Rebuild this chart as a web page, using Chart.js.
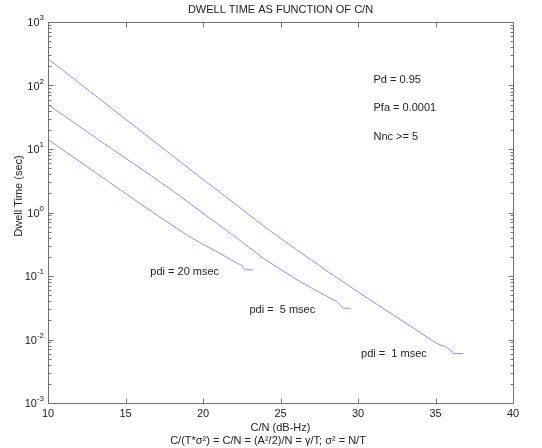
<!DOCTYPE html>
<html>
<head>
<meta charset="utf-8">
<script src="https://cdn.jsdelivr.net/npm/chart.js@4/dist/chart.umd.min.js"></script>
<style>
  html,body{margin:0;padding:0;background:#fff;}
  canvas{display:block;}
</style>
</head>
<body>
<canvas id="c" width="542" height="448"></canvas>
<script>
// values (C/N in dB-Hz, dwell time in sec)
const cnPdi1    = [10, 12, 14, 16, 18, 20, 22, 24, 26, 28, 30, 32, 34, 35, 35.3, 35.5, 35.8, 35.95, 36.15, 36.8];
const dwellPdi1 = [263, 110, 45.7, 19.1, 7.94, 3.31, 1.41, 0.589, 0.263, 0.120, 0.0562, 0.0269, 0.0129, 0.0089, 0.0082, 0.0080, 0.0072, 0.0068, 0.0060, 0.0060];

const cnPdi5    = [10, 12, 14, 16, 18, 20, 22, 24, 26, 27, 28, 28.4, 28.6, 28.8, 29.05, 29.5];
const dwellPdi5 = [50.1, 22.9, 10.5, 4.90, 2.24, 0.977, 0.427, 0.182, 0.0891, 0.0646, 0.0479, 0.0420, 0.0405, 0.0360, 0.0310, 0.0310];

const cnPdi20    = [10, 12, 14, 16, 18, 19, 20, 21, 22, 22.3, 22.45, 22.7, 23.25];
const dwellPdi20 = [14.1, 6.46, 2.95, 1.35, 0.631, 0.437, 0.316, 0.234, 0.170, 0.155, 0.150, 0.125, 0.125];

const xTicks = [10, 15, 20, 25, 30, 35, 40];
const yExps  = [-3, -2, -1, 0, 1, 2, 3];

const curveLabels = ['pdi = 20 msec', 'pdi =  5 msec', 'pdi =  1 msec'];
const notes = ['Pd = 0.95', 'Pfa = 0.0001', 'Nnc >= 5'];

const LINE = '#8c8cff';
const AXIS = '#707070';
const TXT  = '#222';
const FONT = '11px "Liberation Sans", Arial, sans-serif';

const pts = (xs, ys) => xs.map((v,i)=>({x:v, y:ys[i]}));

// MATLAB style box, ticks and labels
const matlabAxes = {
  id:'matlabAxes',
  afterDatasetsDraw(c){
    const {ctx, chartArea:a, scales:{x, y}} = c;
    const L = Math.round(a.left)+0.5, R = Math.round(a.right)+0.5;
    const T = Math.round(a.top)+0.5, B = Math.round(a.bottom)+0.5;
    ctx.save();
    ctx.strokeStyle = AXIS; ctx.lineWidth = 1;
    ctx.beginPath();
    ctx.rect(L, T, R-L, B-T);
    // x ticks, bottom and top
    xTicks.forEach(v=>{
      const px = Math.round(x.getPixelForValue(v))+0.5;
      ctx.moveTo(px, B); ctx.lineTo(px, B-5);
      ctx.moveTo(px, T); ctx.lineTo(px, T+5);
    });
    // y ticks, left and right, with minors
    yExps.forEach(e=>{
      const py = Math.round(y.getPixelForValue(Math.pow(10,e)))+0.5;
      ctx.moveTo(L, py); ctx.lineTo(L+5, py);
      ctx.moveTo(R, py); ctx.lineTo(R-5, py);
      if (e < 3) {
        for (let m=2; m<10; m++){
          const pm = Math.round(y.getPixelForValue(m*Math.pow(10,e)))+0.5;
          ctx.moveTo(L, pm); ctx.lineTo(L+3, pm);
          ctx.moveTo(R, pm); ctx.lineTo(R-3, pm);
        }
      }
    });
    ctx.stroke();

    ctx.fillStyle = TXT;
    ctx.font = FONT;
    // x tick labels
    ctx.textAlign = 'center'; ctx.textBaseline = 'middle';
    xTicks.forEach(v=> ctx.fillText(String(v), x.getPixelForValue(v), a.bottom+11));
    // y tick labels 10^e
    yExps.forEach(e=>{
      const py = y.getPixelForValue(Math.pow(10,e));
      const ex = String(e);
      ctx.font = '8px "Liberation Sans", Arial, sans-serif';
      const ew = ctx.measureText(ex).width;
      ctx.textAlign = 'left';
      ctx.fillText(ex, a.left-4-ew, py-4);
      ctx.font = FONT; ctx.textAlign = 'right';
      ctx.fillText('10', a.left-4-ew, py+1);
    });

    // title and axis titles
    ctx.textAlign = 'center';
    ctx.fillText('DWELL TIME AS FUNCTION OF C/N', (a.left+a.right)/2, 10);
    ctx.fillText('C/N (dB-Hz)', (a.left+a.right)/2, 428);
    ctx.fillText('C/(T*\u03c3\u00b2) = C/N = (A\u00b2/2)/N = \u03b3/T; \u03c3\u00b2 = N/T', 268, 441);
    ctx.save();
    ctx.translate(19, 196); ctx.rotate(-Math.PI/2);
    ctx.fillText('Dwell Time (sec)', 0, 0);
    ctx.restore();

    // curve labels and notes
    ctx.textAlign = 'left';
    const lab = [[16.6, 0.115], [23.0, 0.0292], [30.2, 0.0059]];
    curveLabels.forEach((t,i)=> ctx.fillText(t, x.getPixelForValue(lab[i][0]), y.getPixelForValue(lab[i][1])));
    const nY = [123, 44.7, 15.5];
    notes.forEach((t,i)=> ctx.fillText(t, x.getPixelForValue(31.0), y.getPixelForValue(nY[i])));
    ctx.restore();
  }
};

const mk = (label, xs, ys)=>({
  label, data: pts(xs, ys), showLine:true, borderColor:LINE, borderWidth:1,
  pointRadius:0, fill:false, tension:0
});

new Chart(document.getElementById('c'), {
  type:'scatter',
  data:{ datasets:[
    mk('pdi = 1 msec', cnPdi1, dwellPdi1),
    mk('pdi = 5 msec', cnPdi5, dwellPdi5),
    mk('pdi = 20 msec', cnPdi20, dwellPdi20)
  ]},
  options:{
    responsive:false, animation:false, devicePixelRatio:1,
    layout:{padding:{left:48, right:29, top:22, bottom:45}},
    scales:{
      x:{type:'linear', min:10, max:40, display:false},
      y:{type:'logarithmic', min:0.001, max:1000, display:false}
    },
    plugins:{legend:{display:false}, tooltip:{enabled:false}}
  },
  plugins:[matlabAxes]
});
</script>
</body>
</html>
